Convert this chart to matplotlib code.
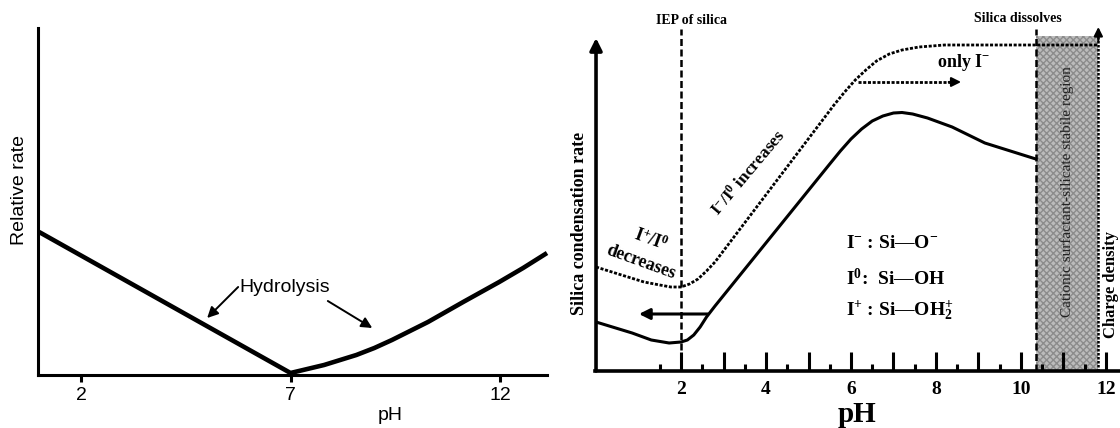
import matplotlib
matplotlib.use("Agg")
import matplotlib.pyplot as plt

# ---- left panel: hydrolysis rate vs pH ----
LEFT_PH = [1.0, 7.0, 7.8, 8.57, 9.0, 9.42, 9.85, 10.28, 10.7, 11.12, 11.55, 11.98, 12.55, 13.12]
LEFT_RATE = [1.43, 0.02, 0.10, 0.20, 0.27, 0.35, 0.44, 0.53, 0.63, 0.73, 0.83, 0.93, 1.07, 1.22]
LEFT_TICKS = [2, 7, 12]

# ---- right panel: condensation rate and charge density vs pH ----
COND_PH = [0.0, 0.85, 1.3, 1.72, 2.0, 2.15, 2.3, 2.45, 2.6, 2.8, 5.5, 5.75, 6.0,
           6.25, 6.5, 6.75, 7.0, 7.2, 7.45, 7.8, 8.38, 9.15, 10.35]
COND_Y = [0.49, 0.38, 0.31, 0.28, 0.29, 0.31, 0.36, 0.44, 0.54, 0.65, 2.07, 2.20, 2.32,
          2.42, 2.50, 2.55, 2.58, 2.585, 2.57, 2.53, 2.44, 2.28, 2.12]
CHARGE_PH = [0.0, 0.6, 1.13, 1.5, 1.76, 2.0, 2.2, 2.4, 2.6, 2.8, 5.6, 5.85, 6.1,
             6.35, 6.6, 6.9, 7.2, 7.6, 8.2, 11.82]
CHARGE_Y = [1.04, 0.96, 0.89, 0.86, 0.84, 0.84, 0.87, 0.92, 1.00, 1.09, 2.66, 2.79, 2.91,
            3.01, 3.10, 3.17, 3.21, 3.24, 3.26, 3.26]
MAJOR_TICKS = [2, 3, 4, 5, 6, 7, 8, 9, 10, 11, 12]
MAJOR_LABELS = ["2", "", "4", "", "6", "", "8", "", "10", "", "12"]
MINOR_TICKS = [1.5, 2.5, 3.5, 4.5, 5.5, 6.5, 7.5, 8.5, 9.5, 10.5, 11.5]
IEP_PH = 2.0
DISSOLVE_PH = 10.35
REGION_END_PH = 11.82

plt.rcParams.update({
    "font.family": "Liberation Serif",
    "mathtext.fontset": "custom",
    "mathtext.rm": "Liberation Serif",
    "mathtext.bf": "Liberation Serif:bold",
    "mathtext.it": "Liberation Serif:italic",
    "mathtext.default": "bf",
})

W, H = 1120, 428
fig = plt.figure(figsize=(W / 100, H / 100), dpi=100)

# left panel
axl = fig.add_axes([38 / W, (H - 375) / H, (547 - 38) / W, (375 - 28) / H])
axl.plot(LEFT_PH, LEFT_RATE, color="black", lw=3.3, solid_joinstyle="round",
         solid_capstyle="butt", clip_on=False)
axl.set_xlim(0.974, 13.12)
axl.set_ylim(0, 3.47)
for s in ("top", "right"):
    axl.spines[s].set_visible(False)
for s in ("left", "bottom"):
    axl.spines[s].set_linewidth(2.2)
axl.set_yticks([])
axl.set_xticks(LEFT_TICKS)
axl.set_xticklabels([str(t) for t in LEFT_TICKS], family="Liberation Sans", fontsize=14)
axl.tick_params(axis="x", direction="out", length=5, width=2.2, pad=4)
fig.text(20 / W, 1 - 190 / H, "Relative rate", rotation=90, ha="center", va="center",
         family="Liberation Sans", fontsize=14)
fig.text(390 / W, 1 - 415 / H, "pH", ha="center", va="center",
         family="Liberation Sans", fontsize=14)
axl.text(6.86, 0.88, "Hydrolysis", ha="center", va="center",
         family="Liberation Sans", fontsize=14)
arrow_thin = dict(arrowstyle="-|>", lw=1.4, color="black", mutation_scale=16,
                  shrinkA=0, shrinkB=0)
axl.annotate("", xy=(5.01, 0.57), xytext=(5.75, 0.88), arrowprops=arrow_thin)
axl.annotate("", xy=(8.95, 0.47), xytext=(7.89, 0.74), arrowprops=arrow_thin)

# right panel
axr = fig.add_axes([595 / W, (H - 371) / H, (W - 595) / W, 371 / H])
axr.set_xlim(-0.024, 12.33)
axr.set_ylim(0, 3.71)
for s in ("top", "right", "left"):
    axr.spines[s].set_visible(False)
axr.spines["bottom"].set_linewidth(2.6)
axr.set_yticks([])
axr.set_xticks(MAJOR_TICKS)
axr.set_xticklabels(MAJOR_LABELS, fontsize=14, fontweight="bold")
axr.set_xticks(MINOR_TICKS, minor=True)
axr.tick_params(axis="x", which="major", direction="in", length=14, width=2.2, pad=7)
axr.tick_params(axis="x", which="minor", direction="in", length=5, width=2.2)
axr.set_xlabel("pH", fontsize=21, fontweight="bold", labelpad=2)

# y axis arrow
axr.annotate("", xy=(0, 3.33), xytext=(0, 0),
             arrowprops=dict(arrowstyle="-|>", lw=2.6, color="black",
                             mutation_scale=18, shrinkA=0, shrinkB=0),
             annotation_clip=False)
fig.text(580 / W, 1 - 223 / H, "Silica condensation rate", rotation=90,
         ha="center", va="center", fontsize=13, fontweight="bold")

# shaded stable region
axr.fill_between([DISSOLVE_PH, REGION_END_PH], 0, 3.35, facecolor="#bcbcbc",
                 hatch="xxxxx", edgecolor="#8c8c8c", linewidth=0, zorder=1)
axr.text((DISSOLVE_PH + REGION_END_PH) / 2, 1.79,
         "Cationic surfactant-silicate stabile region", rotation=90,
         ha="center", va="center", fontsize=11, color="#222222", zorder=3)

# vertical dashed lines
for ph in (IEP_PH, DISSOLVE_PH):
    axr.plot([ph, ph], [0, 3.42], color="black", lw=1.8, ls=(0, (2.8, 1.4)),
             zorder=4, clip_on=False)
axr.text(2.24, 3.51, "IEP of silica", ha="center", va="center", fontsize=10,
         fontweight="bold")
axr.text(9.93, 3.53, "Silica dissolves", ha="center", va="center", fontsize=10,
         fontweight="bold")

# charge density axis (dotted, right)
axr.plot([REGION_END_PH, REGION_END_PH], [0, 3.36], color="black", lw=1.8,
         ls=(0, (1.0, 0.6)), zorder=4)
axr.annotate("", xy=(REGION_END_PH, 3.44), xytext=(REGION_END_PH, 3.30),
             arrowprops=dict(arrowstyle="-|>", lw=1.5, color="black",
                             mutation_scale=13, shrinkA=0, shrinkB=0))
fig.text(1111 / W, 1 - 285 / H, "Charge density", rotation=90, ha="center",
         va="center", fontsize=12, fontweight="bold")

# curves
axr.plot(COND_PH, COND_Y, color="black", lw=2.2, zorder=5, solid_joinstyle="round")
axr.plot(CHARGE_PH, CHARGE_Y, color="black", lw=2.0, ls=(0, (1.1, 0.6)), zorder=5)

# arrows
axr.annotate("", xy=(1.01, 0.57), xytext=(2.63, 0.57),
             arrowprops=dict(arrowstyle="-|>", lw=2.2, color="black",
                             mutation_scale=16, shrinkA=0, shrinkB=0))
axr.plot([6.17, 8.35], [2.89, 2.89], color="black", lw=2.0, ls=(0, (1.1, 0.6)))
axr.annotate("", xy=(8.59, 2.89), xytext=(8.3, 2.89),
             arrowprops=dict(arrowstyle="-|>", lw=1.5, color="black",
                             mutation_scale=14, shrinkA=0, shrinkB=0))

# annotations
axr.text(8.64, 3.09, "only I$^{-}$", ha="center", va="center", fontsize=13,
         fontweight="bold")
axr.text(3.58, 1.98, "I$^{-}$/I$^{0}$ increases", ha="center", va="center",
         fontsize=12.5, fontweight="bold", rotation=50)
axr.text(1.29, 1.31, "I$^{+}$/I$^{0}$", ha="center", va="center", fontsize=13,
         fontweight="bold", rotation=-20)
axr.text(1.06, 1.09, "decreases", ha="center", va="center", fontsize=13,
         fontweight="bold", rotation=-20)

legend_lines = ["I$^{-}$ : Si\u2014O$^{-}$", "I$^{0}$:  Si\u2014OH",
                "I$^{+}$ : Si\u2014OH$_{2}^{+}$"]
for txt, y in zip(legend_lines, [1.28, 0.93, 0.61]):
    axr.text(5.88, y, txt, ha="left", va="center", fontsize=14, fontweight="bold")

fig.savefig("out.png", dpi=100)
